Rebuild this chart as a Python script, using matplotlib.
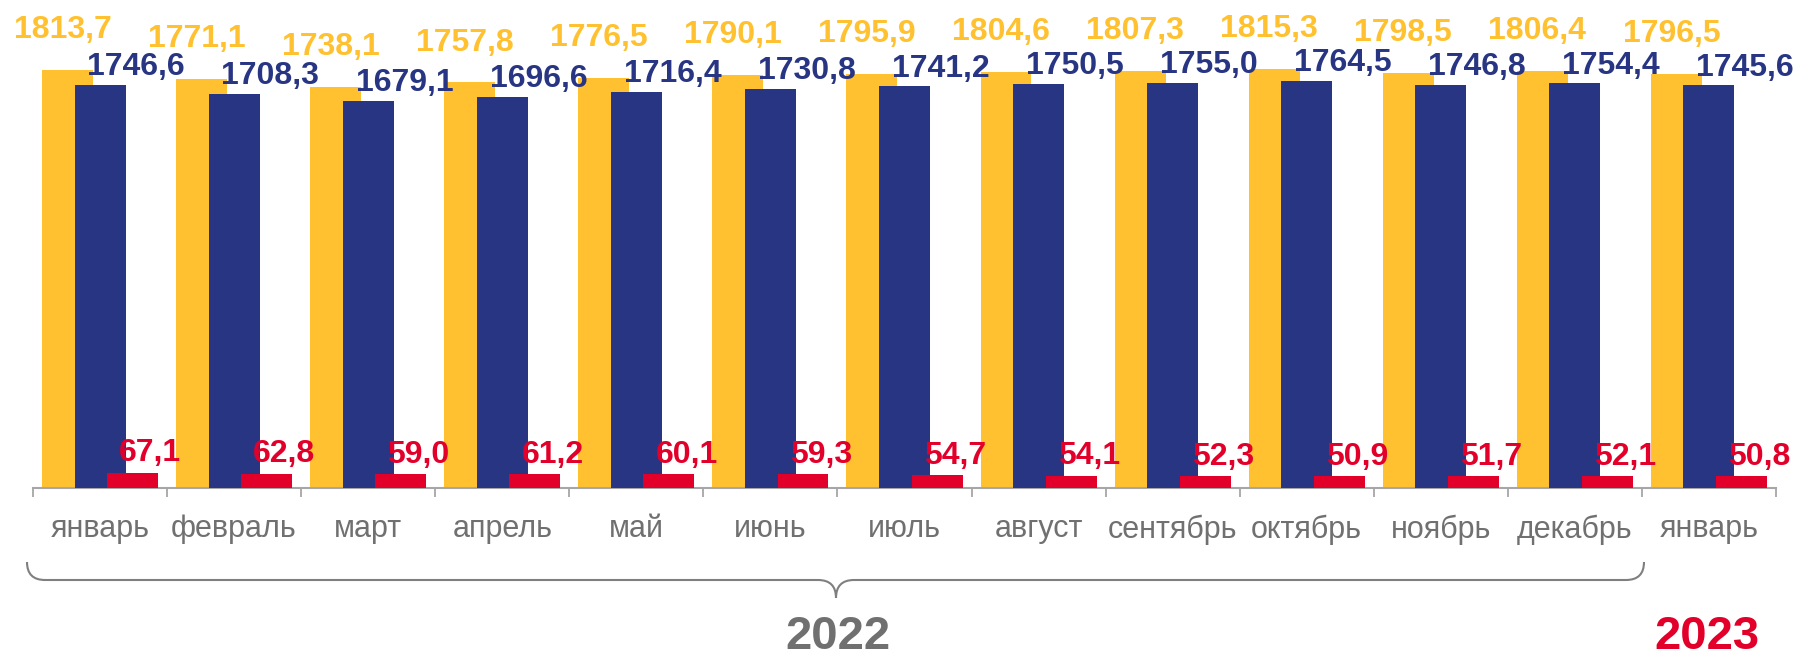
import matplotlib.pyplot as plt
import numpy as np
from matplotlib.path import Path
from matplotlib.patches import PathPatch

plt.rcParams['font.family'] = ['Liberation Sans', 'DejaVu Sans']

# Data
months = ["январь", "февраль", "март", "апрель", "май", "июнь", "июль",
          "август", "сентябрь", "октябрь", "ноябрь", "декабрь", "январь"]
yellow_vals = [1813.7, 1771.1, 1738.1, 1757.8, 1776.5, 1790.1, 1795.9,
               1804.6, 1807.3, 1815.3, 1798.5, 1806.4, 1796.5]
blue_vals = [1746.6, 1708.3, 1679.1, 1696.6, 1716.4, 1730.8, 1741.2,
             1750.5, 1755.0, 1764.5, 1746.8, 1754.4, 1745.6]
red_vals = [67.1, 62.8, 59.0, 61.2, 60.1, 59.3, 54.7,
            54.1, 52.3, 50.9, 51.7, 52.1, 50.8]
year_labels = ["2022", "2023"]

YELLOW = "#FFC12F"
BLUE = "#283583"
RED = "#E2002A"
GRAY = "#707070"

W, H = 1800, 658
fig = plt.figure(figsize=(W / 100, H / 100), dpi=100)
ax = fig.add_axes([33 / W, 170 / H, 1743 / W, 461.4 / H])

x = np.arange(len(months))
bw = 0.38
off = 0.243


def fmt(v):
    return f"{v:.1f}".replace(".", ",")


ax.bar(x - off, yellow_vals, bw, color=YELLOW, zorder=2)
ax.bar(x, blue_vals, bw, color=BLUE, zorder=3)
ax.bar(x + off, red_vals, bw, color=RED, zorder=4)

for i in x:
    ax.annotate(fmt(yellow_vals[i]), (i - 0.28, yellow_vals[i]), xytext=(0, 23),
                textcoords="offset points", ha="center", va="baseline",
                color=YELLOW, fontsize=23, fontweight="bold", zorder=5)
    ax.annotate(fmt(blue_vals[i]), (i + 0.27, blue_vals[i]), xytext=(0, 7),
                textcoords="offset points", ha="center", va="baseline",
                color=BLUE, fontsize=23, fontweight="bold", zorder=5)
    ax.annotate(fmt(red_vals[i]), (i + 0.375, red_vals[i]), xytext=(0, 8),
                textcoords="offset points", ha="center", va="baseline",
                color=RED, fontsize=23, fontweight="bold", zorder=5)

ax.set_xlim(-0.5, len(months) - 0.5)
ax.set_ylim(0, 2000)
ax.set_yticks([])
for s in ["top", "right", "left"]:
    ax.spines[s].set_visible(False)
ax.spines["bottom"].set_color("#a6a6a6")
ax.spines["bottom"].set_linewidth(1.5)

ax.set_xticks(x)
ax.set_xticklabels(months, fontsize=22, color=GRAY)
ax.tick_params(axis="x", which="major", length=0, pad=19)
ax.set_xticks(np.arange(len(months) + 1) - 0.5, minor=True)
ax.tick_params(axis="x", which="minor", length=6.5, width=1.3, color="#a6a6a6")


# brace under 2022 months (pixel coordinates, y from top)
def fp(px, py):
    return (px / W, 1 - py / H)


xl, xr, xm = 27, 1644, 836
yt, yl, yb = 562, 580, 598
r = 18
verts = [fp(xl, yt), fp(xl, yl), fp(xl + r, yl),
         fp(xm - r, yl), fp(xm, yl), fp(xm, yb),
         fp(xm, yl), fp(xm + r, yl),
         fp(xr - r, yl), fp(xr, yl), fp(xr, yt)]
codes = [Path.MOVETO, Path.CURVE3, Path.CURVE3,
         Path.LINETO, Path.CURVE3, Path.CURVE3,
         Path.CURVE3, Path.CURVE3,
         Path.LINETO, Path.CURVE3, Path.CURVE3]
brace = PathPatch(Path(verts, codes), transform=fig.transFigure,
                  fill=False, edgecolor="#7f7f7f", linewidth=1.5)
fig.patches.append(brace)

fig.text(838 / W, 1 - 649 / H, year_labels[0], ha="center", va="baseline",
         fontsize=34, fontweight="bold", color=GRAY)
fig.text(1707 / W, 1 - 649 / H, year_labels[1], ha="center", va="baseline",
         fontsize=34, fontweight="bold", color=RED)

fig.savefig("out.png", dpi=100)
